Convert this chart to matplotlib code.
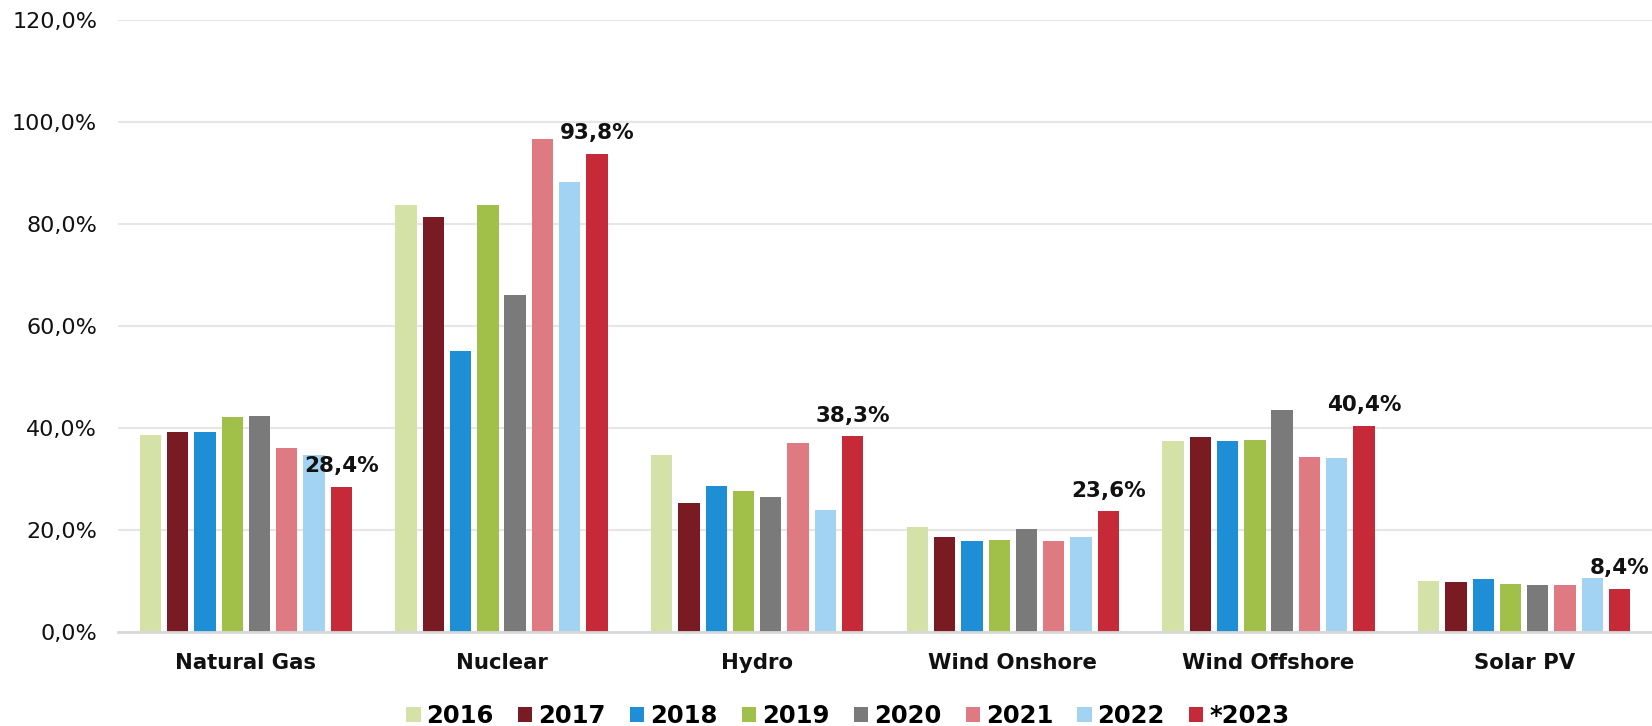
import matplotlib
matplotlib.use("Agg")
import matplotlib.pyplot as plt
import numpy as np
from matplotlib.patches import Patch

categories = ["Natural Gas", "Nuclear", "Hydro", "Wind Onshore", "Wind Offshore", "Solar PV"]
years = ["2016", "2017", "2018", "2019", "2020", "2021", "2022", "*2023"]

v2016 = [38.5, 83.8, 34.6, 20.5, 37.5, 9.9]
v2017 = [39.2, 81.4, 25.2, 18.6, 38.2, 9.7]
v2018 = [39.2, 55.1, 28.6, 17.8, 37.5, 10.3]
v2019 = [42.1, 83.8, 27.6, 18.0, 37.7, 9.35]
v2020 = [42.4, 66.0, 26.4, 20.2, 43.4, 9.2]
v2021 = [36.0, 96.6, 37.1, 17.8, 34.3, 9.2]
v2022 = [34.6, 88.3, 23.9, 18.6, 34.0, 10.5]
v2023 = [28.4, 93.8, 38.3, 23.6, 40.4, 8.4]

series = [v2016, v2017, v2018, v2019, v2020, v2021, v2022, v2023]
colors = ["#d4e2a8", "#7a1a22", "#1e8fd6", "#a0c04a", "#7a7a7a", "#e07a82", "#a3d3f2", "#c62a39"]

W, H = 1652, 726
fig = plt.figure(figsize=(W / 100, H / 100), dpi=100)
ax = fig.add_axes([118 / W, (H - 631.7) / H, (W - 118) / W, (631.7 - 20) / H])

x = np.arange(len(categories))
slot = 27.3 / 255.7
bw = 21.3 / 255.7
for i, (vals, c) in enumerate(zip(series, colors)):
    bars = ax.bar(x + (i - 3.5) * slot, vals, width=bw, color=c, zorder=3,
                  edgecolor=c, linewidth=0)
    if i == len(series) - 1:
        for b, v in zip(bars, vals):
            ax.annotate(f"{v:.1f}".replace(".", ",") + "%",
                        (b.get_x() + b.get_width() / 2, v),
                        xytext=(0, 10.5), textcoords="offset points",
                        ha="center", va="baseline", fontsize=15.5,
                        fontweight="bold", color="#111111", zorder=5)

ax.set_xlim(-0.5, len(categories) - 0.5)
ax.set_ylim(0, 120)
ax.set_yticks(np.arange(0, 121, 20))
ax.set_yticklabels([f"{t:.1f}".replace(".", ",") + "%" for t in np.arange(0, 121, 20)],
                   fontsize=16, color="#111111")
ax.set_xticks(x)
ax.set_xticklabels(categories, fontsize=15.3, fontweight="bold", color="#111111")
ax.tick_params(axis="both", length=0)
ax.tick_params(axis="y", pad=15)
ax.tick_params(axis="x", pad=15)
ax.grid(axis="y", color="#e6e6e6", linewidth=1.5, zorder=0)
for s in ["top", "right", "left"]:
    ax.spines[s].set_visible(False)
ax.spines["bottom"].set_color("#d9d9d9")
ax.spines["bottom"].set_linewidth(2)
ax.spines["bottom"].set_zorder(4)

handles = [Patch(facecolor=c, edgecolor="none") for c in colors]
fig.legend(handles, years, loc="center", bbox_to_anchor=(848 / W, 1 - 716 / H),
           ncol=8, frameon=False, prop={"size": 17.5, "weight": "bold"},
           handlelength=0.58, handleheight=0.58, handletextpad=0.25, columnspacing=1.0,
           borderpad=0, borderaxespad=0)

fig.savefig("out.png", dpi=100)
